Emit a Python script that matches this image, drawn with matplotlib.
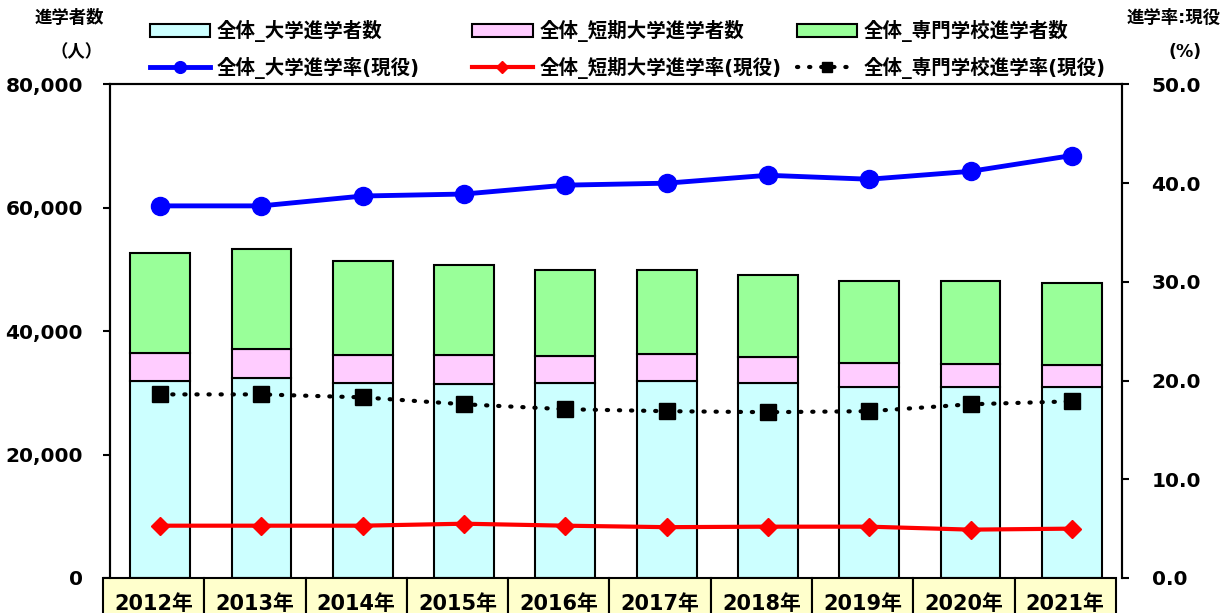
import numpy as np
import matplotlib
matplotlib.use('Agg')
import matplotlib.pyplot as plt
from matplotlib.patches import Rectangle
import matplotlib.transforms as mtransforms

plt.rcParams['font.family'] = ['DejaVu Sans', 'Noto Sans CJK JP']
plt.rcParams['font.weight'] = 'bold'

years = ['2012年', '2013年', '2014年', '2015年', '2016年', '2017年', '2018年', '2019年', '2020年', '2021年']
univ_n = [31900, 32450, 31650, 31450, 31600, 31900, 31650, 31000, 31000, 31000]
junior_n = [4640, 4600, 4490, 4700, 4380, 4380, 4170, 3890, 3730, 3520]
voc_n = [16110, 16260, 15240, 14590, 13940, 13620, 13290, 13290, 13450, 13290]
univ_r = [37.7, 37.7, 38.7, 38.9, 39.8, 40.0, 40.8, 40.4, 41.2, 42.8]
junior_r = [5.3, 5.3, 5.3, 5.5, 5.3, 5.15, 5.2, 5.2, 4.9, 5.0]
voc_r = [18.6, 18.6, 18.3, 17.6, 17.1, 16.9, 16.8, 16.9, 17.6, 17.9]

fig = plt.figure(figsize=(12.29, 6.13), dpi=100)
ax = fig.add_axes([0.0891, 0.0571, 0.9133 - 0.0891, 0.8622 - 0.0571])
ax2 = ax.twinx()

x = np.arange(len(years))
w = 0.59
b1 = ax.bar(x, univ_n, w, color='#CCFFFF', edgecolor='black', linewidth=1.5, zorder=2)
b2 = ax.bar(x, junior_n, w, bottom=univ_n, color='#FFCCFF', edgecolor='black', linewidth=1.5, zorder=2)
bot = np.array(univ_n) + np.array(junior_n)
b3 = ax.bar(x, voc_n, w, bottom=bot, color='#99FF99', edgecolor='black', linewidth=1.5, zorder=2)

l1, = ax2.plot(x, univ_r, color='#0000FF', lw=3.5, marker='o', ms=13, zorder=3)
l2, = ax2.plot(x, junior_r, color='#FF0000', lw=3, marker='D', ms=9, zorder=3)
l3, = ax2.plot(x, voc_r, color='black', lw=3, ls=(0, (0.3, 2.6)), dash_capstyle='round',
               marker='s', ms=12, zorder=3)

ax.set_xlim(-0.5, 9.5)
ax.set_ylim(0, 80000)
ax2.set_ylim(0, 50)
ax.set_yticks(range(0, 80001, 20000))
ax.set_yticklabels(['{:,}'.format(v) for v in range(0, 80001, 20000)])
ax2.set_yticks(np.arange(0, 50.1, 10))
ax2.set_yticklabels(['{:.1f}'.format(v) for v in np.arange(0, 50.1, 10)])
ax.set_xticks([])
ax.tick_params(axis='y', labelsize=14.5, length=5, width=1.5, pad=14)
ax2.tick_params(axis='y', labelsize=14.5, length=5, width=1.5, pad=16)
for a in (ax, ax2):
    for s in a.spines.values():
        s.set_linewidth(1.5)
    a.spines['bottom'].set_visible(False)

# year label cells under the axis
trans = mtransforms.blended_transform_factory(ax.transData, ax.transAxes)
for i, y in enumerate(years):
    r = Rectangle((i - 0.5 - 0.065, -0.1), 1.0, 0.1, transform=trans,
                  facecolor='#FFFFCC', edgecolor='black', lw=1.5, clip_on=False, zorder=5)
    ax.add_patch(r)
    ax.text(i - 0.065, -0.052, y, transform=trans, ha='center', va='center',
            fontsize=15, fontweight='bold', zorder=6)

fig.text(0.056, 0.97, '進学者数', ha='center', va='center', fontsize=12.5, fontweight='bold')
fig.text(0.062, 0.915, '（人）', ha='center', va='center', fontsize=12.5, fontweight='bold')
fig.text(0.955, 0.97, '進学率:現役', ha='center', va='center', fontsize=12.5, fontweight='bold')
fig.text(0.964, 0.915, '(%)', ha='center', va='center', fontsize=12.5, fontweight='bold')

cols = [([b1, l1], ['全体_大学進学者数', '全体_大学進学率(現役)'], 0.1155),
        ([b2, l2], ['全体_短期大学進学者数', '全体_短期大学進学率(現役)'], 0.378),
        ([b3, l3], ['全体_専門学校進学者数', '全体_専門学校進学率(現役)'], 0.642)]
for hs, labs, xpos in cols:
    fig.legend(hs, labs, loc='upper left', bbox_to_anchor=(xpos, 0.98), frameon=False,
               handlelength=3.1, handleheight=0.65, handletextpad=0.35, markerscale=0.65,
               labelspacing=0.75, borderaxespad=0.0, prop={'weight': 'bold', 'size': 14})

fig.savefig('out.png', dpi=100)
